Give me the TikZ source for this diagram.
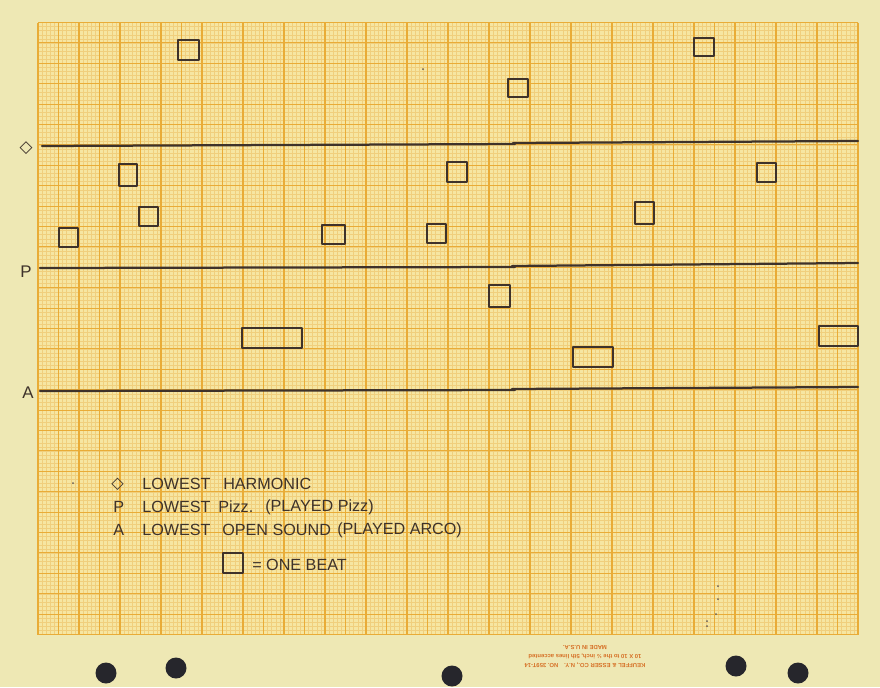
\documentclass[tikz,border=0pt]{standalone}
\usepackage{fontspec}
\setmainfont{Liberation Sans}
\newfontfamily\symfont{DejaVu Sans}
\definecolor{paper}{RGB}{238,232,180}
\definecolor{gridbase}{RGB}{246,230,162}
\definecolor{minorgrid}{RGB}{240,207,125}
\definecolor{majorgrid}{RGB}{233,172,55}
\definecolor{ink}{RGB}{62,50,42}
\definecolor{printred}{RGB}{214,112,38}
\definecolor{hole}{RGB}{38,38,44}

\begin{document}
\begin{tikzpicture}[
        x=0.025cm, y=-0.025cm, % one unit = one pixel, y down
        minorline/.style={draw=minorgrid, line width=0.3pt},
        majorline/.style={draw=majorgrid, line width=0.75pt},
        staffline/.style={draw=ink, line width=1.6pt, line cap=round},
        beatbox/.style={draw=ink, line width=1.6pt, line join=round},
        rowmark/.style={text=ink, font=\fontsize{12}{14}\selectfont, inner sep=0pt},
        legendtext/.style={text=ink, font=\fontsize{11.5}{13}\selectfont, anchor=west, inner sep=0pt},
        imprint/.style={text=printred, font=\bfseries\fontsize{4.2}{5}\selectfont, rotate=180, inner sep=0pt},
        holemark/.style={fill=hole},
        speck/.style={fill=ink!80}
    ]
    \useasboundingbox (0,0) rectangle (880,687);
    \fill[paper] (0,0) rectangle (880,687);

    % ==========================================
    % 1. Graph paper
    % ==========================================
    \fill[gridbase] (38,22.5) rectangle (858,634.5);
    \foreach \i in {0,...,200} {
        \draw[minorline] ({38+4.1*\i},22.5) -- ({38+4.1*\i},634.5);
    }
    \foreach \j in {0,...,150} {
        \draw[minorline] (38,{22.5+4.08*\j}) -- (858,{22.5+4.08*\j});
    }
    \foreach \i in {0,...,40} {
        \draw[majorline] ({38+20.5*\i},22.5) -- ({38+20.5*\i},634.5);
    }
    \foreach \j in {0,...,30} {
        \draw[majorline] (38,{22.5+20.4*\j}) -- (858,{22.5+20.4*\j});
    }

    % ==========================================
    % 2. Register lines and their marks
    % ==========================================
    \node[rowmark] (harm) at (26,148) {\symfont ◇};
    \node[rowmark] (pizz) at (26,272) {P};
    \node[rowmark] (arco) at (28,393) {A};

    \draw[staffline] (42,146) -- (515,144);
    \draw[staffline] (513,143) -- (858,141);
    \draw[staffline] (40,268) -- (515,267);
    \draw[staffline] (512,266) -- (858,263);
    \draw[staffline] (40,391) -- (515,390);
    \draw[staffline] (512,389) -- (858,387);

    % ==========================================
    % 3. Beats
    % ==========================================
    \draw[beatbox] (178,40) rectangle (199,60);
    \draw[beatbox] (119,164) rectangle (137,186);
    \draw[beatbox] (139,207) rectangle (158,226);
    \draw[beatbox] (59,228) rectangle (78,247);
    \draw[beatbox] (508,79) rectangle (528,97);
    \draw[beatbox] (447,162) rectangle (467,182);
    \draw[beatbox] (427,224) rectangle (446,243);
    \draw[beatbox] (635,202) rectangle (654,224);
    \draw[beatbox] (694,38) rectangle (714,56);
    \draw[beatbox] (757,163) rectangle (776,182);
    \draw[beatbox] (322,225) rectangle (345,244);
    \draw[beatbox] (489,285) rectangle (510,307);
    % longer ones
    \draw[beatbox] (242,328) rectangle (302,348);
    \draw[beatbox] (573,347) rectangle (613,367);
    \draw[beatbox] (819,326) rectangle (858,346);

    % ==========================================
    % 4. Legend
    % ==========================================
    \node[legendtext] (key1) at (111,484) {\symfont ◇};
    \node[legendtext] (low1) at (142,484) {LOWEST};
    \node[legendtext] (txt1) at (223,484) {HARMONIC};

    \node[legendtext] (key2) at (113,507) {P};
    \node[legendtext] (low2) at (142,507) {LOWEST};
    \node[legendtext] (txt2) at (218,507) {Pizz.};
    \node[legendtext] (par2) at (265,507) {(PLAYED Pizz)};

    \node[legendtext] (key3) at (113,530) {A};
    \node[legendtext] (low3) at (142,530) {LOWEST};
    \node[legendtext] (txt3) at (222,530) {OPEN SOUND};
    \node[legendtext] (par3) at (337,530) {(PLAYED ARCO)};

    \draw[beatbox] (223,553) rectangle (243,573);
    \node[legendtext] (beat) at (252,565) {= ONE BEAT};

    % ==========================================
    % 5. Paper margin: imprint, holes, specks
    % ==========================================
    \node[imprint] (mfr) at (585,665) {KEUFFEL \& ESSER CO., N.Y.\quad NO. 359T-14};
    \node[imprint] (spec) at (585,656) {10 X 10 to the ½ inch, 5th lines accented};
    \node[imprint] (made) at (585,648) {MADE IN U.S.A.};

    \foreach \hx/\hy in {106/673, 176/668, 452/676, 736/666, 798/673} {
        \fill[holemark] (\hx,\hy) circle (10.5);
    }
    \foreach \sx/\sy in {423/69, 73/483, 718/586, 718/599, 716/614, 707/621, 707/626} {
        \fill[speck] (\sx,\sy) circle (1);
    }
\end{tikzpicture}
\end{document}
